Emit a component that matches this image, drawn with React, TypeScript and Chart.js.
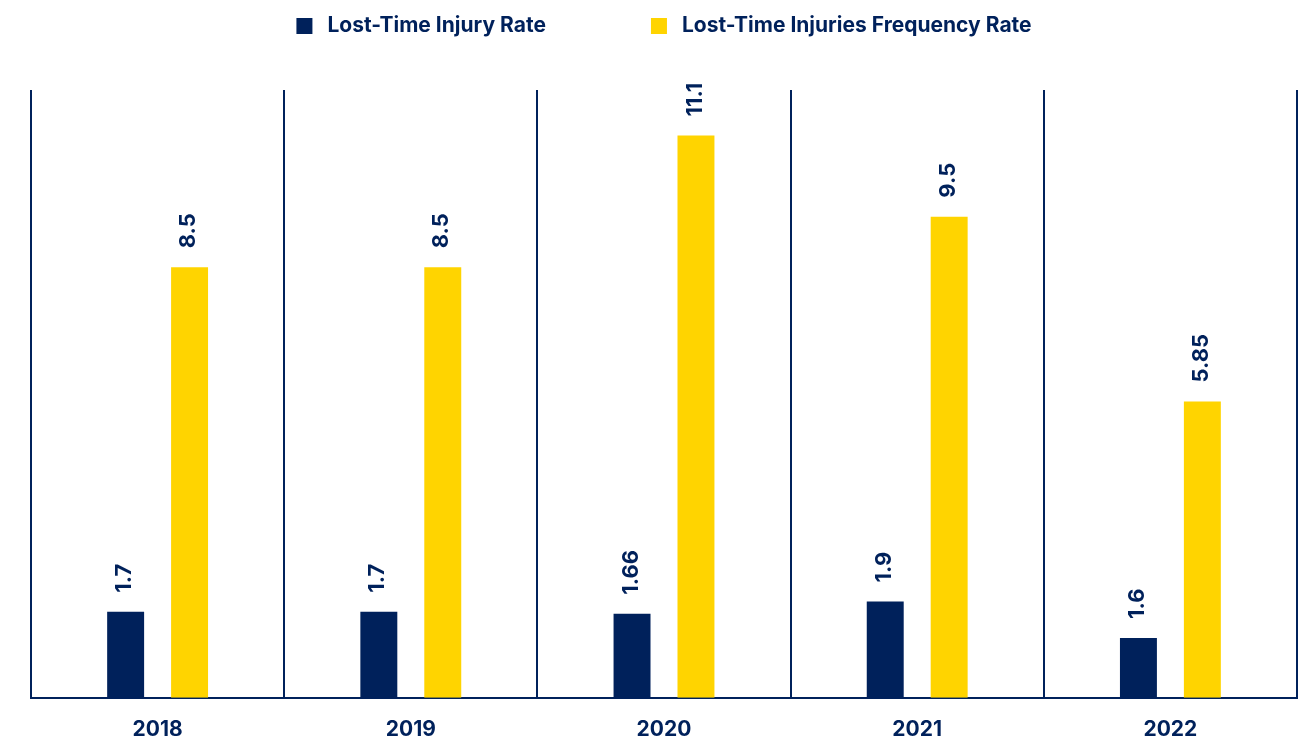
import React, { useEffect, useRef } from "react";
import { Chart, registerables } from "chart.js";

Chart.register(...registerables);

const years = ["2018", "2019", "2020", "2021", "2022"];
// Bar heights as drawn in the picture (the 2022 LTIR bar is drawn shorter than its 1.6 label)
const lostTimeInjuryRate = [1.7, 1.7, 1.66, 1.9, 1.18];
const lostTimeInjuriesFrequencyRate = [8.5, 8.5, 11.1, 9.5, 5.85];
// Printed value labels
const lostTimeInjuryRateLabels = ["1.7", "1.7", "1.66", "1.9", "1.6"];
const lostTimeInjuriesFrequencyRateLabels = ["8.5", "8.5", "11.1", "9.5", "5.85"];
const seriesLabels = ["Lost-Time Injury Rate", "Lost-Time Injuries Frequency Rate"];
const valueLabelSets = [lostTimeInjuryRateLabels, lostTimeInjuriesFrequencyRateLabels];

const NAVY = "#00215B";
const YELLOW = "#FFD400";
const FONT = "Inter, 'Open Sans', sans-serif";

const valueLabelPlugin = {
  id: "valueLabels",
  afterDatasetsDraw(chart: any) {
    const ctx = chart.ctx;
    ctx.save();
    ctx.fillStyle = NAVY;
    ctx.font = `700 22px ${FONT}`;
    ctx.textAlign = "left";
    ctx.textBaseline = "middle";
    chart.data.datasets.forEach((ds: any, di: number) => {
      const meta = chart.getDatasetMeta(di);
      meta.data.forEach((el: any, i: number) => {
        const text = valueLabelSets[di][i];
        ctx.save();
        ctx.translate(el.x - 1, el.y - 19);
        ctx.rotate(-Math.PI / 2);
        ctx.fillText(text, 0, 0);
        ctx.restore();
      });
    });
    ctx.restore();
  },
};

const customLegendPlugin = {
  id: "customLegend",
  afterDraw(chart: any) {
    const ctx = chart.ctx;
    ctx.save();
    ctx.font = `700 21px ${FONT}`;
    ctx.textBaseline = "middle";
    ctx.textAlign = "left";
    const box = 16;
    const gapBoxText = 15;
    const gapItems = 105;
    const items = chart.data.datasets.map((d: any) => ({
      text: d.label,
      color: d.backgroundColor,
      w: ctx.measureText(d.label).width,
    }));
    const total = items.reduce((s: number, it: any) => s + box + gapBoxText + it.w, 0) + gapItems * (items.length - 1);
    const center = (chart.chartArea.left + chart.chartArea.right) / 2;
    let x = center - total / 2;
    const y = 26;
    items.forEach((it: any) => {
      ctx.fillStyle = it.color;
      ctx.fillRect(x, y - box / 2, box, box);
      x += box + gapBoxText;
      ctx.fillStyle = NAVY;
      ctx.fillText(it.text, x, y);
      x += it.w + gapItems;
    });
    ctx.restore();
  },
};

export default function App() {
  const ref = useRef<HTMLCanvasElement | null>(null);
  useEffect(() => {
    if (!ref.current) return;
    const chart = new Chart(ref.current, {
      type: "bar",
      data: {
        labels: years,
        datasets: [
          {
            label: seriesLabels[0],
            data: lostTimeInjuryRate,
            backgroundColor: NAVY,
            categoryPercentage: 0.505,
            barPercentage: 0.578,
          },
          {
            label: seriesLabels[1],
            data: lostTimeInjuriesFrequencyRate,
            backgroundColor: YELLOW,
            categoryPercentage: 0.505,
            barPercentage: 0.578,
          },
        ],
      },
      options: {
        animation: false,
        responsive: true,
        maintainAspectRatio: false,
        layout: { padding: { top: 90, left: 31, right: 10, bottom: -20 } },
        plugins: {
          legend: { display: false },
          tooltip: { enabled: false },
        },
        scales: {
          x: {
            grid: {
              display: true,
              offset: true,
              color: NAVY,
              lineWidth: 2,
              drawTicks: false,
            },
            border: { display: true, color: NAVY, width: 2 },
            ticks: {
              color: NAVY,
              font: { family: FONT, size: 21, weight: "bold" },
              padding: 19,
            },
          },
          y: {
            display: false,
            min: 0,
            max: 12,
          },
        },
      },
      plugins: [valueLabelPlugin, customLegendPlugin],
    });
    return () => chart.destroy();
  }, []);
  return (
    <div style={{ position: "fixed", left: 0, top: 0, width: "100vw", height: "100vh", background: "#fff" }}>
      <canvas ref={ref} />
    </div>
  );
}
